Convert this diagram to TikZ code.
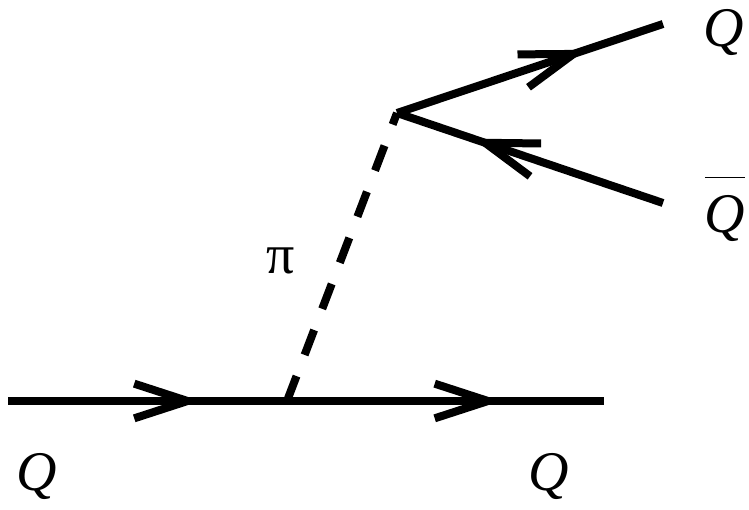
\documentclass[tikz,border=0pt]{standalone}
\usepackage{fontspec}
\setmainfont{Liberation Serif}
\usetikzlibrary{arrows.meta, decorations.markings}
\tikzset{
  fermion/.style={
    line width=6pt, postaction={decorate},
    decoration={markings, mark=at position #1 with {\arrow{Straight Barb[length=40pt, width=26pt]}}}
  },
  fermion/.default=0.69,
  pion/.style={line width=6pt, dash pattern=on 20pt off 17pt},
  plabel/.style={font=\fontsize{42}{50}\selectfont\itshape, inner sep=0pt, anchor=base},
  pilabel/.style={font=\fontsize{42}{50}\selectfont, inner sep=0pt, anchor=base}
}
\begin{document}
\begin{tikzpicture}[x=0.75pt, y=-0.75pt]
  \useasboundingbox (0,0) rectangle (749,510);

  % vertices and external lines
  \coordinate (qin) at (8,401);
  \coordinate (v1) at (287,401);
  \coordinate (qout) at (604,401);
  \coordinate (v2) at (397,113);
  \coordinate (qup) at (663,24);
  \coordinate (qbarend) at (663,203);

  \draw[fermion=0.69] (qin) -- (v1);
  \draw[fermion=0.675] (v1) -- (qout);
  \draw[pion] (v1) -- (v2);
  \draw[fermion=0.71] (v2) -- (qup);
  \draw[fermion=0.715] (qbarend) -- (v2);

  % labels
  \node[plabel] (qinlabel) at (37,490) {Q};
  \node[plabel] (qoutlabel) at (549,490) {Q};
  \node[plabel] (quplabel) at (724,47) {Q};
  \node[plabel] (qbarlabel) at (725,232) {$\overline{\mbox{Q\rule{0pt}{40pt}}}$};
  \node[pilabel] (pilabel) at (281,273) {π};
\end{tikzpicture}
\end{document}
